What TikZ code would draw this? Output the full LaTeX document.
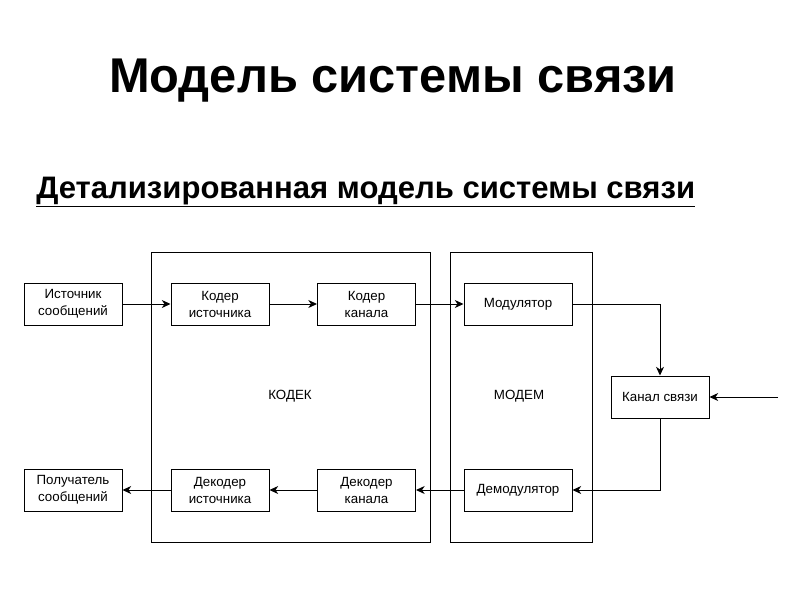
\documentclass[tikz,border=0pt]{standalone}
\usepackage{fontspec}
\setmainfont{Liberation Sans}
\usetikzlibrary{arrows.meta}
\tikzset{
  blok/.style={draw, line width=0.75pt, minimum width=73.5pt, minimum height=31.5pt,
    inner sep=1pt, align=center, font=\fontsize{10}{12.75}\selectfont},
  shirblok/.style={blok, minimum width=81pt},
  gruppa/.style={draw, line width=0.75pt, minimum width=209.25pt, minimum height=217.5pt},
  strelka/.style={line width=0.75pt, -{Stealth[length=6.5pt,width=6pt,inset=2pt]}}
}
\begin{document}
\begin{tikzpicture}[x=0.75pt, y=-0.75pt]
  \useasboundingbox (0,0) rectangle (800,600);
  % titles
  \node[anchor=base, font=\fontsize{36.6}{44}\selectfont\bfseries] (zag) at (393,92) {Модель системы связи};
  \node[anchor=base west, inner sep=0pt, font=\fontsize{23.3}{28}\selectfont\bfseries] (podzag) at (36,198) {\underline{Детализированная модель системы связи}};
  % groups
  \node[gruppa] (kodek) at (290.5,397) {};
  \node[gruppa, minimum width=106.5pt] (modem) at (521,397) {};
  \node[font=\fontsize{10}{12}\selectfont] (kodektxt) at (290,396) {КОДЕК};
  \node[font=\fontsize{10}{12}\selectfont] (modemtxt) at (519,396) {МОДЕМ};
  % upper row
  \node[blok] (ist) at (73,304) {Источник\\сообщений};
  \node[blok] (kodist) at (220,304) {Кодер\\источника};
  \node[blok] (kodkan) at (366.5,304) {Кодер\\канала};
  \node[shirblok] (mod) at (518,304) {Модулятор};
  % channel
  \node[blok] (kanal) at (660,397) {Канал связи};
  \coordinate (pomeha) at (778,397);
  % lower row
  \node[blok] (poluch) at (73,490) {Получатель\\сообщений};
  \node[blok] (dekist) at (220,490) {Декодер\\источника};
  \node[blok] (dekkan) at (366.5,490) {Декодер\\канала};
  \node[shirblok] (demod) at (518,490) {Демодулятор};
  % connectors
  \draw[strelka] (ist) -- (kodist);
  \draw[strelka] (kodist) -- (kodkan);
  \draw[strelka] (kodkan) -- (mod);
  \draw[strelka] (mod.east) -| (kanal.north);
  \draw[strelka] (pomeha) -- (kanal.east);
  \draw[strelka] (kanal.south) |- (demod.east);
  \draw[strelka] (demod) -- (dekkan);
  \draw[strelka] (dekkan) -- (dekist);
  \draw[strelka] (dekist) -- (poluch);
\end{tikzpicture}
\end{document}
